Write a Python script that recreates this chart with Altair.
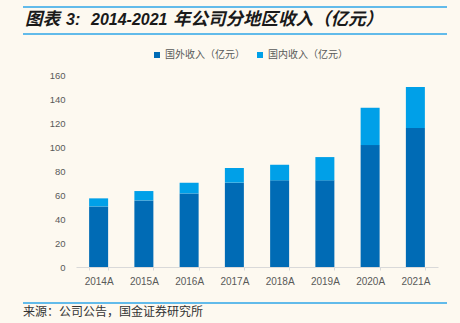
import altair as alt
import pandas as pd

years = ['2014A', '2015A', '2016A', '2017A', '2018A', '2019A', '2020A', '2021A']
overseas = [50.5, 55.5, 61.3, 70.3, 72.2, 72.2, 101.6, 115.8]
domestic = [6.7, 7.8, 8.9, 12.2, 13.0, 19.4, 31.1, 34.2]
series = ['国外收入（亿元）', '国内收入（亿元）']
colors = ['#006bb5', '#00a0e8']
title_parts = ['图表', '3:', '2014-2021', '年公司分地区收入（亿元）']
source_text = '来源：公司公告，国金证券研究所'

rows = []
for y, o, d in zip(years, overseas, domestic):
    rows.append({'year': y, 'series': series[0], 'value': o, 'ord': 0})
    rows.append({'year': y, 'series': series[1], 'value': d, 'ord': 1})
df = pd.DataFrame(rows)

FONT = 'Liberation Sans, Noto Sans CJK SC, sans-serif'
CJK = 'Noto Sans CJK SC'

bars = alt.Chart(df).mark_bar(size=19).encode(
    x=alt.X('year:N', sort=years, title=None,
            scale=alt.Scale(paddingInner=0.58, paddingOuter=0.29),
            axis=alt.Axis(labelAngle=0, domainColor='#d9d9d9', tickColor='#d9d9d9',
                          tickSize=3, tickBand='extent', labelPadding=6,
                          labelFontSize=10, labelColor='#595959', labelFont=FONT)),
    y=alt.Y('value:Q', stack='zero', title=None,
            scale=alt.Scale(domain=[0, 160]),
            axis=alt.Axis(values=[0, 20, 40, 60, 80, 100, 120, 140, 160], grid=False,
                          domain=False, ticks=False, labelPadding=11,
                          labelFontSize=9.5, labelColor='#595959', labelFont=FONT)),
    color=alt.Color('series:N', scale=alt.Scale(domain=series, range=colors),
                    legend=alt.Legend(title=None, orient='none', direction='horizontal',
                                      legendX=76, legendY=-25, symbolType='square',
                                      symbolSize=36, symbolStrokeWidth=0, labelFontSize=10,
                                      labelColor='#595959', labelFont=FONT, labelOffset=3,
                                      columnPadding=10)),
    order=alt.Order('ord:Q'),
)

one = pd.DataFrame({'a': [0]})
line_color = '#2ea6e8'

top1 = alt.Chart(one).mark_rule(color=line_color, strokeWidth=1.5).encode(
    x=alt.value(-53), x2=alt.value(371), y=alt.value(-68))
top2 = alt.Chart(one).mark_rule(color=line_color, strokeWidth=1.5).encode(
    x=alt.value(-53), x2=alt.value(371), y=alt.value(-41))
bot = alt.Chart(one).mark_rule(color=line_color, strokeWidth=1.5).encode(
    x=alt.value(-53), x2=alt.value(371), y=alt.value(228))


def title_seg(text, x, size, font):
    return alt.Chart(pd.DataFrame({'t': [text]})).mark_text(
        align='left', baseline='alphabetic', fontSize=size, fontWeight='bold',
        fontStyle='italic', font=font, color='#1a1a1a').encode(
        x=alt.value(x), y=alt.value(-50), text='t:N')


t1 = title_seg(title_parts[0], -51, 17.5, CJK)
t2 = title_seg(title_parts[1], -10, 16, FONT)
t3 = title_seg(title_parts[2], 15, 16, FONT)
t4 = title_seg(title_parts[3], 97, 17.5, CJK)

source = alt.Chart(pd.DataFrame({'t': [source_text]})).mark_text(
    align='left', baseline='alphabetic', fontSize=12, font=CJK,
    color='#333333').encode(
    x=alt.value(-53), y=alt.value(241), text='t:N')

chart = alt.layer(bars, top1, top2, bot, t1, t2, t3, t4, source).properties(
    width=362, height=192,
    autosize=alt.AutoSizeParams(type='none'),
    padding={'left': 76, 'top': 75, 'right': 22, 'bottom': 56},
    background='#fdf9f0',
).configure_view(stroke=None)

chart.save("out.html", embed_options={"renderer": "svg", "actions": False})
